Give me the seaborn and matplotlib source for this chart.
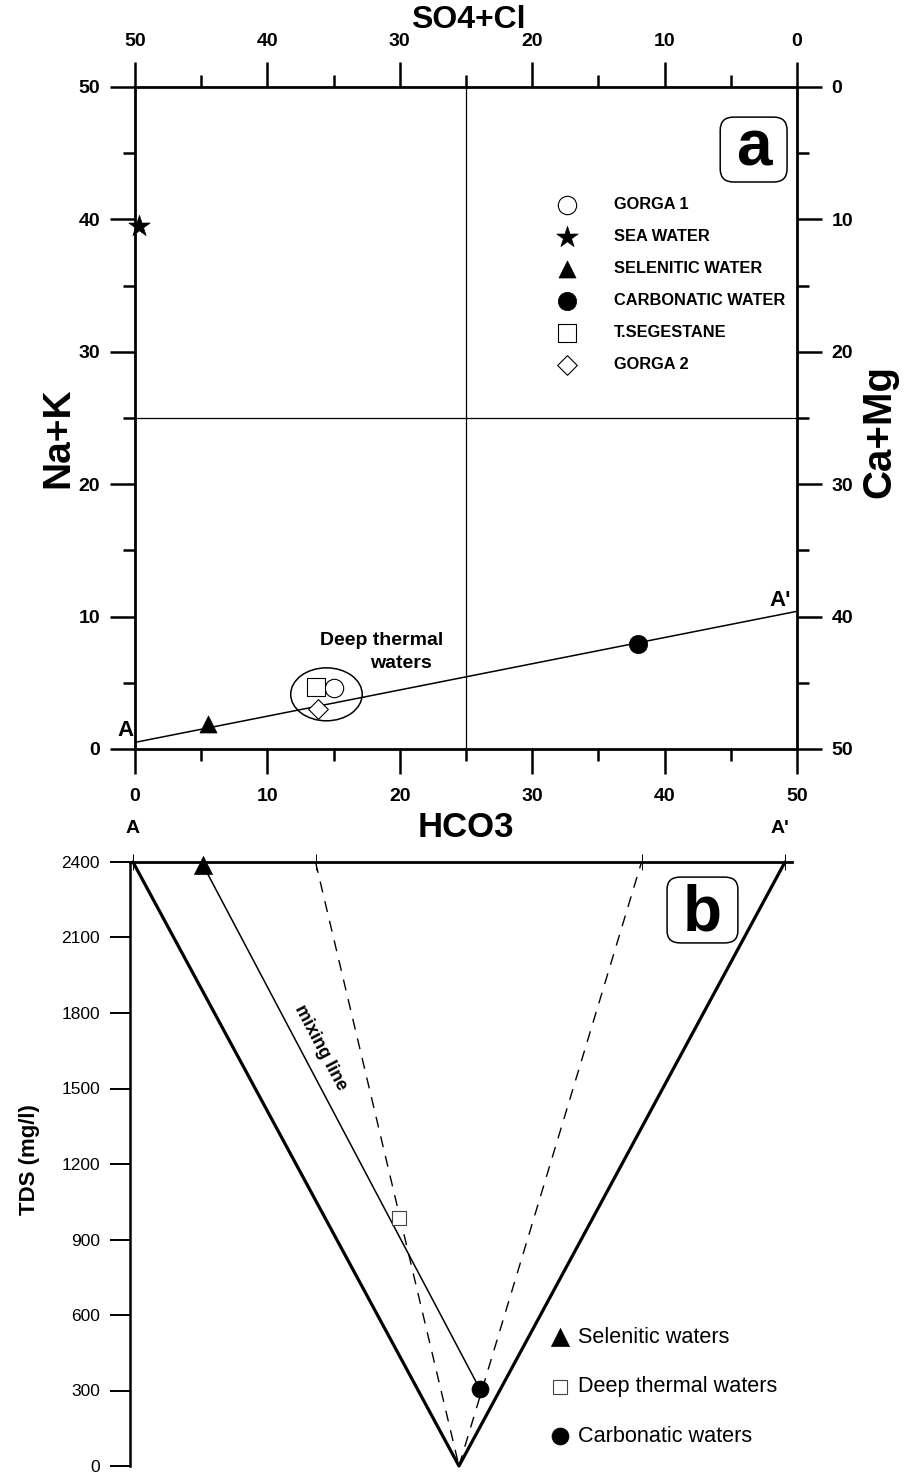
import numpy as np
import pandas as pd
import matplotlib
matplotlib.use("Agg")
import matplotlib.pyplot as plt
import seaborn as sns
from matplotlib.patches import Ellipse, FancyBboxPatch
from matplotlib.ticker import MultipleLocator

# ---------------- Panel a data ----------------
samples_a = ["GORGA 1", "SEA WATER", "SELENITIC WATER", "CARBONATIC WATER", "T.SEGESTANE", "GORGA 2"]
hco3_a = [15.0, 0.3, 5.5, 38.0, 13.7, 13.8]
nak_a = [4.6, 39.5, 1.9, 7.9, 4.7, 3.0]
markers_a = ["o", "*", "^", "o", "s", "D"]
filled_a = [False, True, True, True, False, False]
sizes_a = [175, 260, 150, 175, 160, 100]

mix_a_hco3 = [0, 50]
mix_a_nak = [0.5, 10.4]
ticks_a = [0, 10, 20, 30, 40, 50]

# ---------------- Panel b data ----------------
groups_b = ["Selenitic waters", "Deep thermal waters", "Carbonatic waters"]
pos_b = [10.7, 40.8, 53.2]
tds_b = [2390, 985, 306]
markers_b = ["^", "s", "o"]
filled_b = [True, False, True]
sizes_b = [170, 100, 150]

tri_pos = [0, 50, 100]
tri_tds = [2400, 0, 2400]
dash_left_pos = [28, 50]
dash_left_tds = [2400, 0]
dash_right_pos = [50, 78]
dash_right_tds = [0, 2400]
mixing_pos = [10.7, 53.2]
mixing_tds = [2390, 306]
top_marks = [0, 28, 78, 100]
tds_ticks = [0, 300, 600, 900, 1200, 1500, 1800, 2100, 2400]

# ---------------- style ----------------
sns.set_theme(style="white")
plt.rcParams["font.family"] = ["Liberation Sans", "DejaVu Sans"]
plt.rcParams["axes.edgecolor"] = "black"
plt.rcParams["xtick.color"] = "black"
plt.rcParams["ytick.color"] = "black"
plt.rcParams["text.color"] = "black"
plt.rcParams["axes.labelcolor"] = "black"

W, H = 905, 1476
fig = plt.figure(figsize=(W / 100, H / 100), dpi=100)

# ================= Panel a =================
ax_a = fig.add_axes([135 / W, 1 - 749 / H, 662 / W, 662 / H])
ax_a.set_xlim(0, 50)
ax_a.set_ylim(0, 50)

df_a = pd.DataFrame({"sample": samples_a, "HCO3": hco3_a, "NaK": nak_a})
sns.lineplot(x=mix_a_hco3, y=mix_a_nak, ax=ax_a, color="black", lw=1.1,
             sort=False, estimator=None, zorder=3)
ax_a.axvline(25, color="black", lw=0.9, zorder=1)
ax_a.axhline(25, color="black", lw=0.9, zorder=1)

for name, mk, filled, s in zip(samples_a, markers_a, filled_a, sizes_a):
    sub = df_a[df_a["sample"] == name]
    sns.scatterplot(data=sub, x="HCO3", y="NaK", ax=ax_a, marker=mk, s=s,
                    facecolor="black" if filled else "white",
                    edgecolor="black", linewidth=0.8 if not filled else 0.5,
                    label=name, legend=False, clip_on=False, zorder=5)

ax_a.add_patch(Ellipse((14.46, 4.13), 5.4, 4.0, fill=False, ec="black", lw=1.1, zorder=4))
ax_a.text(18.6, 8.2, "Deep thermal", ha="center", va="center", fontsize=14, fontweight="bold")
ax_a.text(20.1, 6.45, "waters", ha="center", va="center", fontsize=14, fontweight="bold")
ax_a.text(-0.75, 1.43, "A", ha="center", va="center", fontsize=16, fontweight="bold", clip_on=False)
ax_a.text(48.7, 11.2, "A'", ha="center", va="center", fontsize=16, fontweight="bold", clip_on=False)

# "a" badge
ax_a.add_patch(FancyBboxPatch((0.884, 0.8565), 0.101, 0.098,
                              boxstyle="round,pad=0,rounding_size=0.02",
                              transform=ax_a.transAxes, fc="white", ec="black", lw=1.1, zorder=6))
ax_a.text(0.9345, 0.882, "a", transform=ax_a.transAxes, ha="center", va="baseline",
          fontsize=46, fontweight="bold", zorder=7)

# axes styling
for sp in ax_a.spines.values():
    sp.set_visible(True)
    sp.set_linewidth(2.0)
    sp.set_color("black")

TFS = 14
lab = [str(t) for t in ticks_a]
ax_a.set_xticks(ticks_a, labels=lab, fontweight="bold", fontsize=TFS)
ax_a.set_yticks(ticks_a, labels=lab, fontweight="bold", fontsize=TFS)
ax_a.xaxis.set_minor_locator(MultipleLocator(5))
ax_a.yaxis.set_minor_locator(MultipleLocator(5))
ax_a.tick_params(which="major", direction="out", length=18, width=1.8, top=False, right=False)
ax_a.tick_params(which="minor", direction="out", length=8.6, width=1.8, top=False, right=False)
ax_a.tick_params(axis="x", which="major", pad=10)
ax_a.tick_params(axis="y", which="major", pad=7)

ax_t = ax_a.twiny()
ax_t.set_xlim(50, 0)
ax_t.set_xticks(ticks_a, labels=lab, fontweight="bold", fontsize=TFS)
ax_t.xaxis.set_minor_locator(MultipleLocator(5))
ax_t.tick_params(which="major", direction="out", length=18, width=1.8, pad=8.5)
ax_t.tick_params(which="minor", direction="out", length=8.6, width=1.8)

ax_r = ax_a.twinx()
ax_r.set_ylim(50, 0)
ax_r.set_yticks(ticks_a, labels=lab, fontweight="bold", fontsize=TFS)
ax_r.yaxis.set_minor_locator(MultipleLocator(5))
ax_r.tick_params(which="major", direction="out", length=18, width=1.8, pad=7)
ax_r.tick_params(which="minor", direction="out", length=8.6, width=1.8)
for tw in (ax_t, ax_r):
    for sp in tw.spines.values():
        sp.set_visible(False)

ax_a.set_xlabel("HCO3", fontsize=25, fontweight="bold")
ax_a.xaxis.set_label_coords(0.5, -0.119)
ax_a.xaxis.label.set_va("center")
ax_a.set_ylabel("Na+K", fontsize=28, fontweight="bold")
ax_a.yaxis.set_label_coords(-0.116, 0.47)
ax_a.yaxis.label.set_va("center")
ax_t.set_xlabel("SO4+Cl", fontsize=23, fontweight="bold")
ax_t.xaxis.set_label_coords(0.503, 1.101)
ax_t.xaxis.label.set_va("center")
ax_r.set_ylabel("Ca+Mg", fontsize=29, fontweight="bold", rotation=90)
ax_r.yaxis.set_label_coords(1.125, 0.48)
ax_r.yaxis.label.set_va("center")
ax_r.yaxis.label.set_ha("center")

h, l = ax_a.get_legend_handles_labels()
ax_a.legend(h, l, loc="upper left", bbox_to_anchor=(0.629, 0.834), frameon=False,
            borderaxespad=0, borderpad=0, handlelength=1.85, handletextpad=1.95,
            labelspacing=1.04, prop={"weight": "bold", "size": 11.8}, scatterpoints=1)

# ================= Panel b =================
ax_b = fig.add_axes([129.7 / W, 1 - 1466 / H, 661.8 / W, 604 / H])
ax_b.set_xlim(-0.5, 101)
ax_b.set_ylim(0, 2400)

sns.lineplot(x=tri_pos, y=tri_tds, ax=ax_b, color="black", lw=2.3, sort=False,
             estimator=None, zorder=3)
ax_b.lines[-1].set_clip_on(False)
sns.lineplot(x=dash_left_pos, y=dash_left_tds, ax=ax_b, color="black", lw=1.0, sort=False,
             estimator=None, zorder=2)
ax_b.lines[-1].set_dashes((8, 6.5))
sns.lineplot(x=dash_right_pos, y=dash_right_tds, ax=ax_b, color="black", lw=1.0, sort=False,
             estimator=None, zorder=2)
ax_b.lines[-1].set_dashes((8, 6.5))
sns.lineplot(x=mixing_pos, y=mixing_tds, ax=ax_b, color="black", lw=1.1, sort=False,
             estimator=None, zorder=3)

df_b = pd.DataFrame({"group": groups_b, "pos": pos_b, "TDS": tds_b})
for name, mk, filled, s in zip(groups_b, markers_b, filled_b, sizes_b):
    sub = df_b[df_b["group"] == name]
    sns.scatterplot(data=sub, x="pos", y="TDS", ax=ax_b, marker=mk, s=s,
                    facecolor="black" if filled else "white",
                    edgecolor="black" if filled else "#444444",
                    linewidth=0.5 if filled else 0.8,
                    label=name, legend=False, clip_on=False, zorder=5)

ax_b.text(28.8, 1661, "mixing line", rotation=-62.2, rotation_mode="anchor",
          ha="center", va="center", fontsize=13, fontweight="bold")
ax_b.text(0, 2535, "A", ha="center", va="center", fontsize=14, fontweight="bold", clip_on=False)
ax_b.text(99.2, 2535, "A'", ha="center", va="center", fontsize=14, fontweight="bold", clip_on=False)

ax_b.add_patch(FancyBboxPatch((0.812, 0.866), 0.107, 0.109,
                              boxstyle="round,pad=0,rounding_size=0.02",
                              transform=ax_b.transAxes, fc="white", ec="black", lw=1.1, zorder=6))
ax_b.text(0.8655, 0.886, "b", transform=ax_b.transAxes, ha="center", va="baseline",
          fontsize=46, fontweight="bold", zorder=7)

for side in ("right", "bottom"):
    ax_b.spines[side].set_visible(False)
ax_b.spines["left"].set_linewidth(1.8)
ax_b.spines["top"].set_linewidth(2.0)
ax_b.spines["left"].set_color("black")
ax_b.spines["top"].set_color("black")

ax_b.set_yticks(tds_ticks, labels=[str(t) for t in tds_ticks], fontsize=12.5)
ax_b.tick_params(axis="y", direction="out", length=14.4, width=1.4, pad=7, left=True)
ax_b.xaxis.set_ticks_position("top")
ax_b.set_xticks(top_marks)
ax_b.tick_params(axis="x", direction="inout", length=12, width=0.7, labeltop=False,
                 labelbottom=False, top=True, bottom=False)
ax_b.set_xlabel("")
ax_b.set_ylabel("TDS (mg/l)", fontsize=16, fontweight="bold")
ax_b.yaxis.set_label_coords(-0.151, 0.507)
ax_b.yaxis.label.set_va("center")

hb, lb = ax_b.get_legend_handles_labels()
ax_b.legend(hb, lb, loc="upper left", bbox_to_anchor=(0.635, 0.2308), frameon=False,
            borderaxespad=0, borderpad=0, handlelength=0.93, handletextpad=0.37,
            labelspacing=1.32, fontsize=15.6, scatterpoints=1)

fig.savefig("out.png", dpi=100, facecolor="white")
